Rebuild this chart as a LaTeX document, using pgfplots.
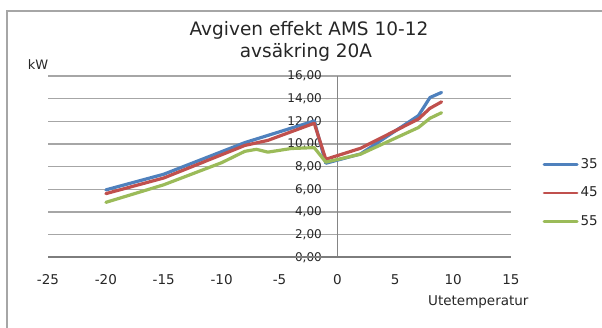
\documentclass[border=0pt]{standalone}
\usepackage{fontspec}
\setmainfont{DejaVu Sans}
\usepackage{pgfplots}
\pgfplotsset{compat=1.18}
\definecolor{s35}{HTML}{4F81BD}
\definecolor{s45}{HTML}{C0504D}
\definecolor{s55}{HTML}{9BBB59}
\definecolor{txt}{HTML}{262626}
\definecolor{grd}{HTML}{A6A6A6}
\begin{document}
\begin{tikzpicture}[x=1pt,y=1pt]
\useasboundingbox (0,0) rectangle (602,327);
\begin{scope}
\clip (0,0) rectangle (602,327);
\draw[color=grd, line width=1.2pt] (7,-5) -- (7,316) -- (610,316);
\end{scope}
\node[anchor=base, font=\fontsize{18.5}{22}\selectfont, text=txt, inner sep=0pt] at (309,291) {Avgiven effekt AMS 10-12};
\node[anchor=base, font=\fontsize{18.5}{22}\selectfont, text=txt, inner sep=0pt] at (306,269.3) {avsäkring 20A};
\node[anchor=base west, font=\fontsize{13}{15}\selectfont, text=txt, inner sep=0pt] at (27.7,257) {kW};
\node[anchor=base west, font=\fontsize{13.5}{15}\selectfont, text=txt, inner sep=0pt] at (428,22) {Utetemperatur};
\begin{axis}[
  at={(48pt,69.7pt)}, anchor=south west,
  scale only axis, width=463pt, height=181.3pt,
  xmin=-25, xmax=15, ymin=0, ymax=16,
  axis line style={draw=none},
  major tick length=0pt,
  xtick={-25,-20,-15,-10,-5,0,5,10,15},
  xticklabels={-25,-20,-15,-10,-5,0,5,10,15},
  ytick={0,2,4,6,8,10,12,14,16},
  yticklabels={{0,00},{2,00},{4,00},{6,00},{8,00},{10,00},{12,00},{14,00},{16,00}},
  xticklabel style={anchor=center, yshift=-22.7pt, font=\fontsize{13.5}{15}\selectfont, text=txt},
  yticklabel style={anchor=east, inner sep=0pt, xshift=274pt, font=\fontsize{12}{14}\selectfont, text=txt},
  ymajorgrids, major grid style={color=grd, line width=1.2pt},
  legend style={draw=none, fill=none, at={(1.13,0.355)}, anchor=center,
    font=\fontsize{13.5}{15}\selectfont, text=txt, row sep=12.5pt,
    nodes={text height=10pt, text depth=2pt}},
  legend cell align=left,
  legend image code/.code={\draw[#1, line width=2.8pt] (0pt,0pt) -- (33pt,0pt);},
  every axis plot/.append style={line width=3.2pt, line join=round, line cap=round},
]
\draw[color=grd!80!black, line width=1.5pt] (axis cs:0,0) -- (axis cs:0,16);
\draw[color=grd!75!black, line width=2pt] (axis cs:-25,0) -- (axis cs:15,0);
\addplot[color=s35] coordinates {(-20,5.95) (-15,7.33) (-8,10.12) (-2,12.03) (-1,8.3) (2,9.12) (7,12.5) (8,14.1) (9,14.55)};
\addplot[color=s45] coordinates {(-20,5.62) (-15,7.0) (-8,9.87) (-6,10.32) (-2,11.83) (-1,8.65) (2,9.62) (7,12.2) (8,13.15) (9,13.72)};
\addplot[color=s55] coordinates {(-20,4.85) (-15,6.4) (-10,8.35) (-8,9.35) (-7,9.53) (-6,9.28) (-4,9.6) (-2,9.68) (-1,8.4) (2,9.1) (7,11.45) (8,12.27) (9,12.76)};
\legend{35,45,55}
\end{axis}
\end{tikzpicture}
\end{document}
